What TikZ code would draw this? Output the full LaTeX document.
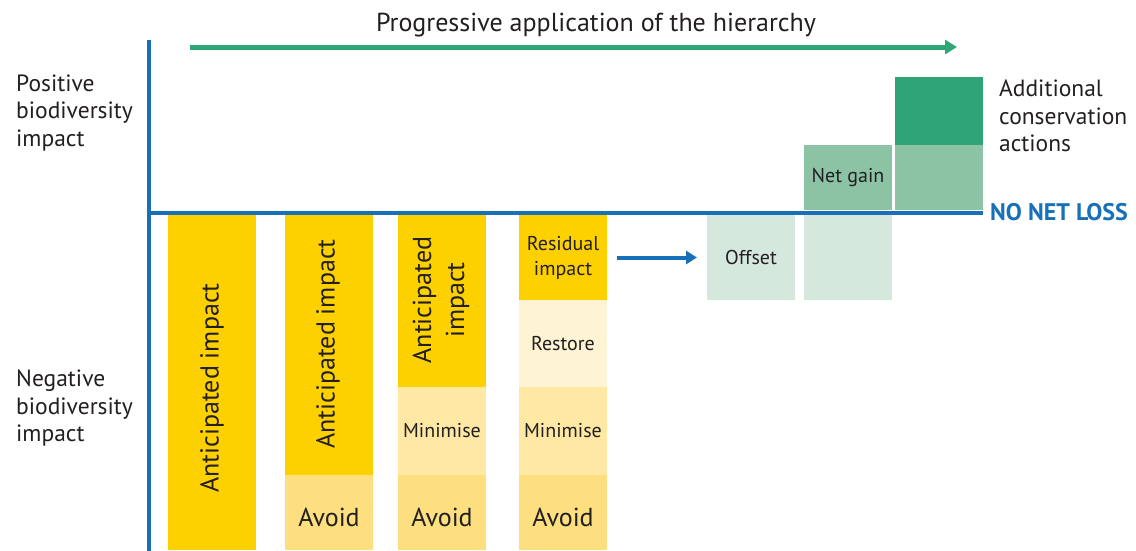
\documentclass[tikz,border=0pt]{standalone}
\usepackage{fontspec}
\setmainfont{PT Sans}
\usetikzlibrary{arrows.meta}
\definecolor{axisblue}{RGB}{24,112,184}
\definecolor{arrgreen}{RGB}{46,166,120}
\definecolor{darkgreen}{RGB}{47,165,119}
\definecolor{medgreen}{RGB}{140,195,165}
\definecolor{palegreen}{RGB}{213,232,222}
\definecolor{yel}{RGB}{253,208,0}
\definecolor{avoidc}{RGB}{253,223,128}
\definecolor{minic}{RGB}{254,232,163}
\definecolor{restc}{RGB}{254,243,211}
\definecolor{txt}{RGB}{35,31,32}
\begin{document}
\begin{tikzpicture}[x=1pt,y=-1pt,
  box/.style={inner sep=0pt, outer sep=0pt, minimum width=88pt, text=txt, align=center},
  lbl/.style={text=txt, inner sep=0pt, align=center},
  side/.style={text=txt, inner sep=0pt, align=left, anchor=west, font=\fontsize{23.5}{27.5}\selectfont},
  small/.style={font=\fontsize{20}{25}\selectfont},
  big/.style={font=\fontsize{26}{33}\selectfont},
  avoidbox/.style={box, fill=avoidc, minimum height=75pt, big, text height=28pt, text depth=0pt},
  axis/.style={draw=axisblue, line width=4pt}]
\useasboundingbox (0,0) rectangle (1136,550);
% bar 1
\node[box, fill=yel, minimum height=335pt] (b1) at (212,382.5) {};
\node[lbl, big, rotate=90] (b1t) at (212,388) {Anticipated impact};
% bar 2
\node[box, fill=yel, minimum height=260pt] (b2) at (329,345) {};
\node[lbl, big, rotate=90] (b2t) at (328,344) {Anticipated impact};
\node[avoidbox] (b2a) at (329,512.5) {Avoid};
% bar 3
\node[box, fill=yel, minimum height=172pt] (b3) at (442,301) {};
\node[lbl, big, rotate=90] (b3t) at (441,300) {Anticipated\\impact};
\node[box, fill=minic, minimum height=88pt, small] (b3m) at (442,431) {Minimise};
\node[avoidbox] (b3a) at (442,512.5) {Avoid};
% bar 4
\node[box, fill=yel, minimum height=85pt, small] (b4r) at (563,257.5) {Residual\\impact};
\node[box, fill=restc, minimum height=87pt, small] (b4s) at (563,343.5) {Restore};
\node[box, fill=minic, minimum height=88pt, small] (b4m) at (563,431) {Minimise};
\node[avoidbox] (b4a) at (563,512.5) {Avoid};
% offset
\node[box, fill=palegreen, minimum height=85pt, small] (off) at (751,257.5) {Offset};
% net gain
\node[box, fill=palegreen, minimum height=85pt] (ngl) at (848,257.5) {};
\node[box, fill=medgreen, minimum height=65pt, small] (ngu) at (848,177.5) {Net gain};
% additional
\node[box, fill=medgreen, minimum height=65pt] (adl) at (939,177.5) {};
\node[box, fill=darkgreen, minimum height=68pt] (adu) at (939,111) {};
% axes
\coordinate (vtop) at (149,40);
\coordinate (vbot) at (149,552);
\coordinate (hl) at (149,212.5);
\coordinate (hr) at (983,212.5);
\draw[axis] (vtop) -- (vbot);
\draw[axis] (hl) -- (hr);
\node[anchor=west, inner sep=0pt, text=axisblue, font=\fontsize{24}{26}\selectfont\bfseries] (nnl) at (990,212) {NO NET LOSS};
% arrows
\draw[draw=axisblue, line width=4pt, -{Triangle[length=11pt,width=13pt]}, shorten <=10pt, shorten >=10pt] (b4r.east) -- (off.west);
\coordinate (ga) at (190,47);
\coordinate (gb) at (957,47);
\draw[draw=arrgreen, line width=5pt, -{Triangle[length=12pt,width=14pt]}] (ga) -- (gb);
\node[lbl, font=\fontsize{26}{28}\selectfont] (title) at (596,25) {Progressive application of the hierarchy};
% side labels
\node[side] (pos) at (16,113) {Positive\\biodiversity\\impact};
\node[side] (neg) at (16,408) {Negative\\biodiversity\\impact};
\node[side] (add) at (999,116) {Additional\\conservation\\actions};
\end{tikzpicture}
\end{document}
